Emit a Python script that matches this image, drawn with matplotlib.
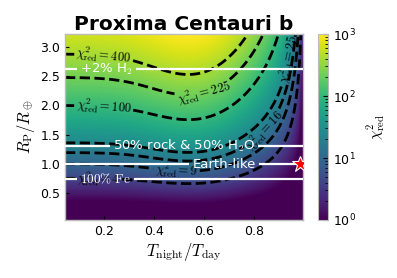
import numpy as np
import matplotlib
matplotlib.use('Agg')
import matplotlib.pyplot as plt
from matplotlib.colors import LogNorm

plt.rcParams['mathtext.fontset'] = 'cm'
plt.rcParams['font.family'] = ['DejaVu Sans']

# ---------------- data ----------------
title = 'Proxima Centauri b'
x_label = r'$T_{\rm night}/T_{\rm day}$'
y_label = r'$R_{\rm P}/R_\oplus$'
cbar_label = r'$\chi^2_{\rm red}$'

x_ticks = [0.2, 0.4, 0.6, 0.8]
y_ticks = [0.5, 1.0, 1.5, 2.0, 2.5, 3.0]
x_range = [0.045, 0.995]
r_range = [0.043, 3.222]

contour_levels = [4, 9, 16, 25, 100, 225, 400]
label_levels = [400, 225, 100, 25, 16, 9, 4]
label_x = [0.20, 0.60, 0.20, 0.93, 0.84, 0.49, 0.18]
label_r = [2.85, 2.20, 2.00, 2.80, 1.58, 0.88, 0.72]

comp_names = ['+2% H$_2$', '50% rock & 50% H$_2$O', 'Earth-like', r'$\mathrm{100\%\ Fe}$']
comp_radius = [2.62, 1.31, 1.00, 0.74]
comp_text_x = [0.212, 0.52, 0.68, 0.208]

earth_x = [0.985]
earth_r = [1.0]

# chi^2 surface parameters (fitted by eye to the contours)
amp = 2.333        # sqrt(chi2) per R^2 at low night/day ratio
floor = 0.667      # sqrt(chi2) offset
bump_height = 0.35
bump_center = 0.58
bump_width = 0.22
wien_a = 4.0

# ---------------- figure ----------------
fig = plt.figure(figsize=(3.97, 2.78), dpi=100)
ax = fig.add_axes([65/397, 1-220/278, 238/397, 186/278])

xg = np.linspace(x_range[0], x_range[1], 400)
rg = np.linspace(r_range[0], r_range[1], 400)
X, R = np.meshgrid(xg, rg)
g = 1 + bump_height*np.exp(-((X - bump_center)/bump_width)**2)
h = g*(1 - np.exp(-wien_a*(1/X - 1)))
chi2 = (amp*R**2*h + floor)**2

norm = LogNorm(vmin=1, vmax=1000)
pcm = ax.pcolormesh(X, R, np.clip(chi2, 1, 1000), cmap='viridis', norm=norm,
                    shading='auto', rasterized=True)

cs = ax.contour(X, R, chi2, levels=contour_levels, colors='k',
                linestyles='--', linewidths=2)
fmt = {lv: r'$\chi^2_{\rm red} = %d$' % lv for lv in contour_levels}
ax.clabel(cs, levels=label_levels, manual=list(zip(label_x, label_r)),
          fmt=fmt, fontsize=9, inline=True, inline_spacing=2)

ax.set_xlim(x_range)
ax.set_ylim(r_range)

# composition lines with inline labels
texts = []
for name, rr, xc in zip(comp_names, comp_radius, comp_text_x):
    t = ax.text(xc, rr, name, color='white', ha='center', va='center',
                fontsize=9.5, zorder=6)
    texts.append(t)
fig.canvas.draw()
renderer = fig.canvas.get_renderer()
inv = ax.transData.inverted()
for t, rr in zip(texts, comp_radius):
    bb = t.get_window_extent(renderer)
    x0 = inv.transform((bb.x0 - 3, bb.y0))[0]
    x1 = inv.transform((bb.x1 + 3, bb.y0))[0]
    ax.plot([x_range[0], x0], [rr, rr], color='white', lw=1.6, zorder=5,
            solid_capstyle='butt')
    ax.plot([x1, x_range[1]], [rr, rr], color='white', lw=1.6, zorder=5,
            solid_capstyle='butt')

ax.plot(earth_x, earth_r, marker='*', ms=12, mfc='red', mec='white',
        mew=0.8, ls='none', zorder=7, clip_on=True)

ax.set_xticks(x_ticks)
ax.set_yticks(y_ticks)
ax.tick_params(direction='in', length=3, labelsize=9)
for s in ax.spines.values():
    s.set_color('#bbbbbb')
    s.set_linewidth(1.0)
ax.set_xlabel(x_label, fontsize=12, labelpad=2)
ax.set_ylabel(y_label, fontsize=12, labelpad=2)
ax.set_title(title, fontsize=14.5, fontweight='bold', pad=3)

cax = fig.add_axes([318/397, 1-220/278, 10/397, 186/278])
cb = fig.colorbar(pcm, cax=cax)
cb.set_label(cbar_label, fontsize=11, labelpad=6)
cb.ax.tick_params(which='both', direction='in', labelsize=9)
cb.outline.set_edgecolor('#bbbbbb')

fig.savefig('out.png', dpi=100)
